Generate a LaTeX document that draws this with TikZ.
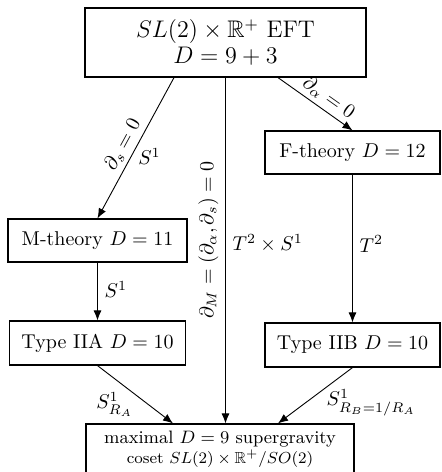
\documentclass[tikz,border=0pt]{standalone}
\usepackage{amsmath,amssymb}
\usetikzlibrary{arrows.meta,calc}
\begin{document}
\begin{tikzpicture}[x=0.5pt,y=-0.5pt,
  box/.style={draw,line width=0.6pt,inner sep=0pt,align=center},
  arr/.style={-{Latex[length=5pt,width=4pt]},line width=0.45pt}]
\useasboundingbox (0,0) rectangle (441,472);
\node[box,minimum width=140.5pt,minimum height=34.5pt,font=\large] (top) at (225.5,42.5)
  {$SL(2)\times\mathbb{R}^+$ EFT\\[-1pt]$D=9+3$};
\node[box,minimum width=89.5pt,minimum height=21.5pt] (mth) at (97.5,240.5) {M-theory $D=11$};
\node[box,minimum width=88pt,minimum height=22pt] (iia) at (97.5,343) {Type IIA $D=10$};
\node[box,minimum width=87.5pt,minimum height=21.5pt] (fth) at (352.5,152.5) {F-theory $D=12$};
\node[box,minimum width=87.5pt,minimum height=22pt] (iib) at (352.5,345) {Type IIB $D=10$};
\node[box,minimum width=134pt,minimum height=25pt] (bot) at (220,449)
  {{\small maximal $D=9$ supergravity}\\[-2pt]{\footnotesize coset $SL(2)\times\mathbb{R}^+/SO(2)$}};
% arrows
\draw[arr] ($(top.south)+(-51.5,0)$) -- node[pos=0.52,sloped,above,inner sep=2pt] {$\partial_s=0$}
  node[pos=0.56,right] {$S^1$} (mth.north);
\draw[arr] ($(top.south)+(52.5,0)$) -- node[pos=0.58,sloped,above,inner sep=2pt] {$\partial_\alpha=0$} (fth.north);
\draw[arr] (top.south) -- node[pos=0.47,rotate=90,anchor=south] {$\partial_M=(\partial_\alpha,\partial_s)=0$}
  node[pos=0.48,right] {$T^2\times S^1$} (top.south |- bot.north);
\draw[arr] (mth.south) -- node[pos=0.47,right] {$S^1$} (iia.north);
\draw[arr] (fth.south) -- node[pos=0.47,right] {$T^2$} (iib.north);
\draw[arr] (iia.south) -- node[pos=0.67,left=4pt] {$S^1_{R_A}$} ($(bot.north)+(-47,0)$);
\draw[arr] (iib.south) -- node[pos=0.63,right=7pt] {$S^1_{R_B=1/R_A}$} ($(bot.north)+(58,0)$);
\end{tikzpicture}
\end{document}
